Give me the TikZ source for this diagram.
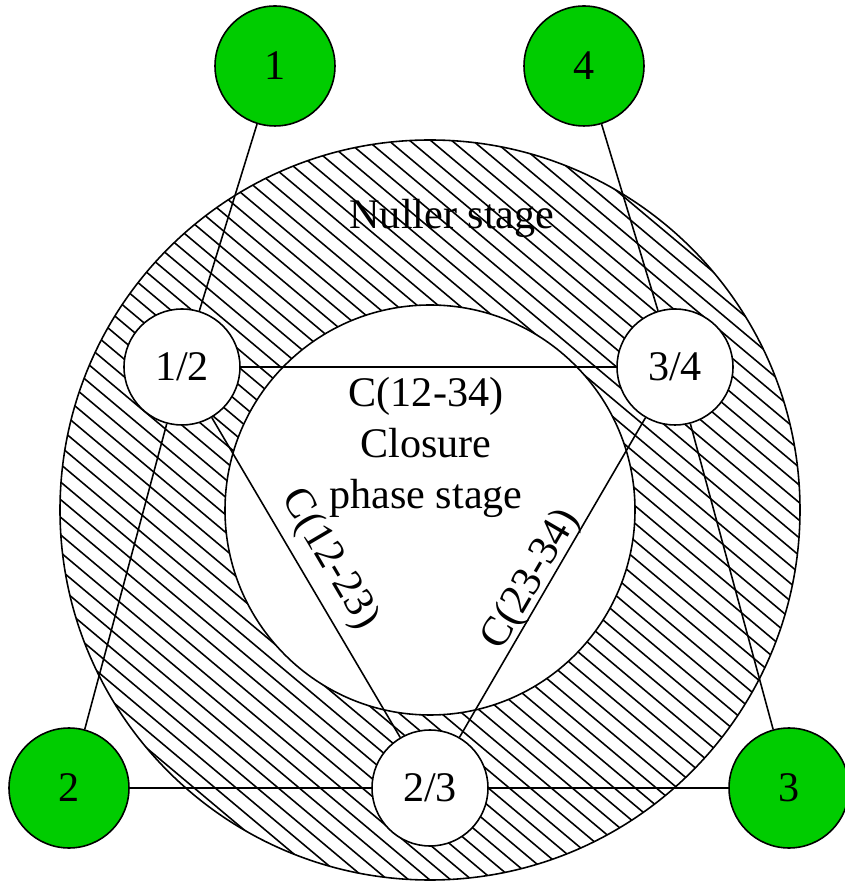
\documentclass[tikz,border=0pt]{standalone}
\usepackage{fontspec}
\setmainfont{Liberation Serif}
\definecolor{telgreen}{HTML}{00CC00}

\begin{document}
\begin{tikzpicture}[
  x=0.02cm, y=0.02cm,
  font=\fontsize{24}{29}\selectfont,
  tel/.style={circle, draw, line width=0.9pt, fill=telgreen,
              minimum size=2.4cm, inner sep=0pt},
  comb/.style={circle, draw, line width=0.9pt, fill=white,
               minimum size=2.32cm, inner sep=0pt},
  link/.style={line width=0.9pt},
  hatch/.style={line width=0.9pt}
]
  \useasboundingbox (-430,-371) rectangle (414,510);

  \begin{scope}
    \clip (0,0) circle (370);
    \begin{scope}[rotate=-40]
      \foreach \k in {-30,...,30}
        \draw[hatch] (-420,\k*13.5) -- (420,\k*13.5);
    \end{scope}
  \end{scope}
  \draw[link] (0,0) circle (370);
  \draw[link, fill=white] (0,0) circle (205);

  \node (nul) at (22,292) {Nuller stage};
  \node[align=center] (cps) at (-4,63) {C(12-34)\\Closure\\phase stage};

  \node[tel] (t1) at (-155,444) {1};
  \node[tel] (t4) at (154,444) {4};
  \node[tel] (t2) at (-361,-278) {2};
  \node[tel] (t3) at (359,-278) {3};

  \node[comb] (c12) at (-248,143) {1/2};
  \node[comb] (c34) at (245,143) {3/4};
  \node[comb] (c23) at (0,-278) {2/3};

  \draw[link] (t1) -- (c12);
  \draw[link] (t2) -- (c12);
  \draw[link] (t4) -- (c34);
  \draw[link] (t3) -- (c34);
  \draw[link] (t2) -- (c23);
  \draw[link] (t3) -- (c23);
  \draw[link] (c12) -- (c34);
  \draw[link] (c12) -- node[sloped, above=2pt, pos=0.49] (l1223) {C(12-23)} (c23);
  \draw[link] (c23) -- node[sloped, above=-5pt, pos=0.466] (l2334) {C(23-34)} (c34);
\end{tikzpicture}
\end{document}
